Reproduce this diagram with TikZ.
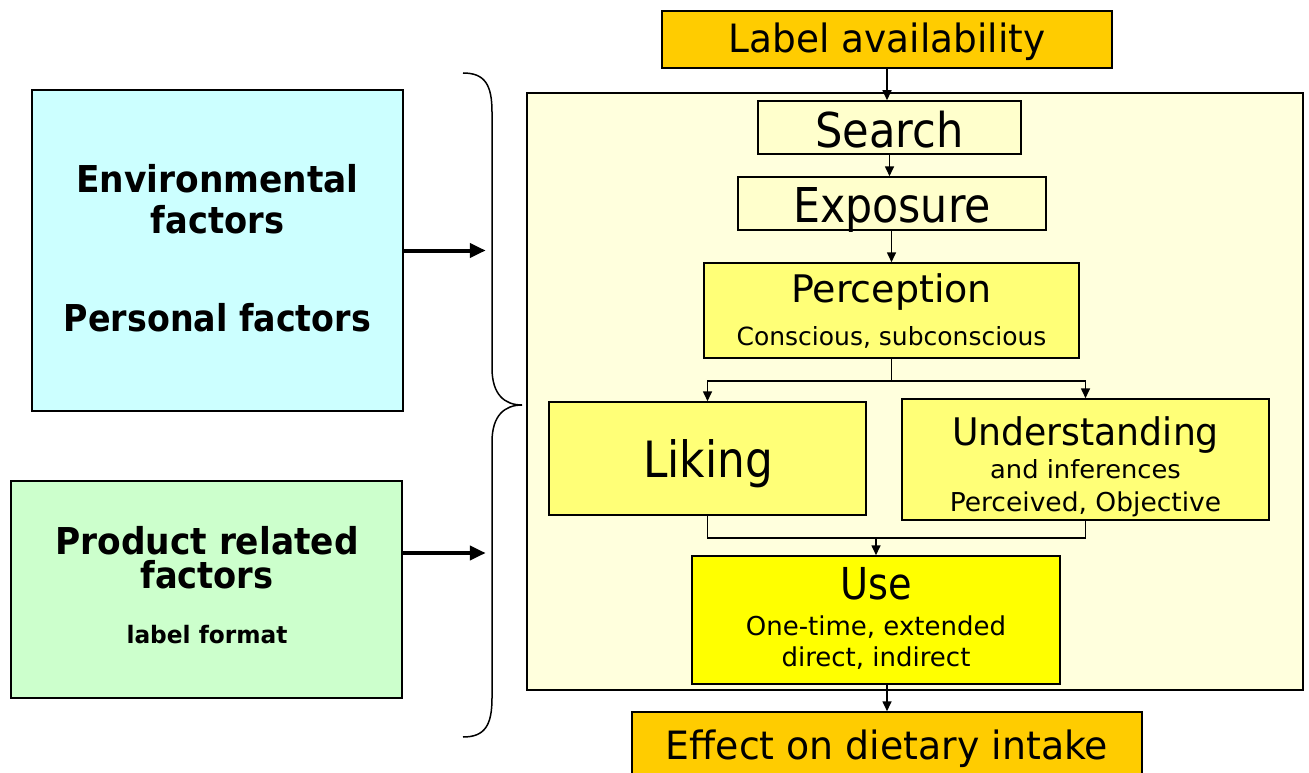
\documentclass[tikz,border=0pt]{standalone}
\usepackage{fontspec}
\usepackage{graphicx}
\setmainfont{DejaVu Sans}
\usetikzlibrary{arrows.meta}
\definecolor{orangeY}{HTML}{FFCC00}
\definecolor{cream}{HTML}{FFFFDD}
\definecolor{paleY}{HTML}{FFFFCC}
\definecolor{midY}{HTML}{FFFF77}
\definecolor{fullY}{HTML}{FFFF00}
\definecolor{envC}{HTML}{CCFFFF}
\definecolor{prodC}{HTML}{CCFFCC}
\newcommand{\fs}[1]{\fontsize{#1}{#1}\selectfont}
\newcommand{\tx}[3]{\scalebox{#2}[1]{\fs{#1}#3}}
\tikzset{
  box/.style={draw=black, line width=1.5pt, inner sep=0pt, rectangle},
  txt/.style={anchor=base, inner sep=0pt, align=center},
  arr/.style={line width=1.6pt, -{Triangle[length=10pt,width=9pt]}},
  ln/.style={line width=1.6pt},
  thickarr/.style={line width=4pt, -{Triangle[length=16pt,width=14pt]}},
}
\begin{document}
\begin{tikzpicture}[x=1pt,y=-1pt]
\useasboundingbox (0,0) rectangle (1309,773);
\fill[white] (0,0) rectangle (1309,773);
% big container
\node[box, line width=1.2pt, fill=cream, minimum width=776, minimum height=597] (big) at (915,391.5) {};
% boxes
\node[box, fill=orangeY, minimum width=450, minimum height=57] (lab) at (887,39.5) {};
\node[box, fill=paleY, minimum width=263, minimum height=53] (search) at (889.5,127.5) {};
\node[box, fill=paleY, minimum width=308, minimum height=53] (expo) at (892,203.5) {};
\node[box, fill=midY, minimum width=375, minimum height=95] (perc) at (891.5,310.5) {};
\node[box, fill=midY, minimum width=317, minimum height=113] (lik) at (707.5,458.5) {};
\node[box, fill=midY, minimum width=367, minimum height=121] (und) at (1085.5,459.5) {};
\node[box, fill=fullY, minimum width=368, minimum height=128] (use) at (876,620) {};
\node[box, fill=orangeY, minimum width=510, minimum height=88] (eff) at (887,756) {};
\node[box, fill=envC, minimum width=371, minimum height=321] (env) at (217.5,250.5) {};
\node[box, fill=prodC, minimum width=391, minimum height=217] (prod) at (206.5,589.5) {};
% texts
\node[txt] (tlab) at (887,53) {\tx{39}{0.96}{Label availability}};
\node[txt] (tsearch) at (889.5,147) {\tx{48}{0.9}{Search}};
\node[txt] (texpo) at (892,222) {\tx{48}{0.89}{Exposure}};
\node[txt] (tperc) at (891.5,302) {\tx{38}{1.0}{Perception}};
\node[txt] (tperc2) at (891.5,345) {\tx{25}{1.0}{Conscious, subconscious}};
\node[txt] (tlik) at (708,477) {\tx{50}{0.877}{Liking}};
\node[txt] (tund) at (1085.5,445) {\tx{38}{0.953}{Understanding}};
\node[txt] (tund2) at (1085.5,478) {\tx{25}{1.03}{and inferences}};
\node[txt] (tund3) at (1085.5,511) {\tx{26}{1.02}{Perceived, Objective}};
\node[txt] (tuse) at (876,599) {\tx{44}{0.87}{Use}};
\node[txt] (tuse2) at (876,635) {\tx{26}{1.0}{One-time, extended}};
\node[txt] (tuse3) at (876,666) {\tx{26}{1.0}{direct, indirect}};
\node[txt] (teff) at (887,759) {\tx{39}{0.97}{Effect on dietary intake}};
\node[txt, font=\bfseries] (tenv1) at (217.5,193) {\tx{37}{0.93}{Environmental}};
\node[txt, font=\bfseries] (tenv2) at (217.5,233) {\tx{37}{0.91}{factors}};
\node[txt, font=\bfseries] (tenv3) at (217.5,331) {\tx{37}{0.9}{Personal factors}};
\node[txt, font=\bfseries] (tprod1) at (207,554) {\tx{37}{0.93}{Product related}};
\node[txt, font=\bfseries] (tprod2) at (207,588) {\tx{37}{0.91}{factors}};
\node[txt, font=\bfseries] (tprod3) at (207,643) {\tx{24}{0.97}{label format}};
% connectors
\draw[arr] (lab.south) -- (lab.south |- search.north);
\draw[arr] (search.south) -- (search.south |- expo.north);
\draw[arr] (expo.south -| perc.north) -- (perc.north);
\path (perc.south) ++(0,22) coordinate (sp);
\draw[ln] (perc.south) -- (sp);
\draw[arr] (sp) -| (lik.north);
\draw[arr] (sp) -| (und.north);
\path (lik.south) ++(0,22) coordinate (jn);
\draw[ln] (lik.south) |- (jn) -| (und.south);
\draw[arr] (jn -| use.north) -- (use.north);
\draw[arr] (use.south -| eff.north) -- (eff.north);
\draw[thickarr] (env.east) -- ++(82,0) coordinate (e1);
\draw[thickarr] ([yshift=36.5pt]prod.east) -- ++(83,0) coordinate (e2);
% brace
\draw[line width=1.5pt] (463,73) .. controls (485,73) and (492,85) .. (492,112)
  -- (492,368) .. controls (492,395) and (505,405) .. (522,405)
  .. controls (505,405) and (492,415) .. (492,442)
  -- (492,698) .. controls (492,725) and (485,737) .. (463,737);
\end{tikzpicture}
\end{document}
